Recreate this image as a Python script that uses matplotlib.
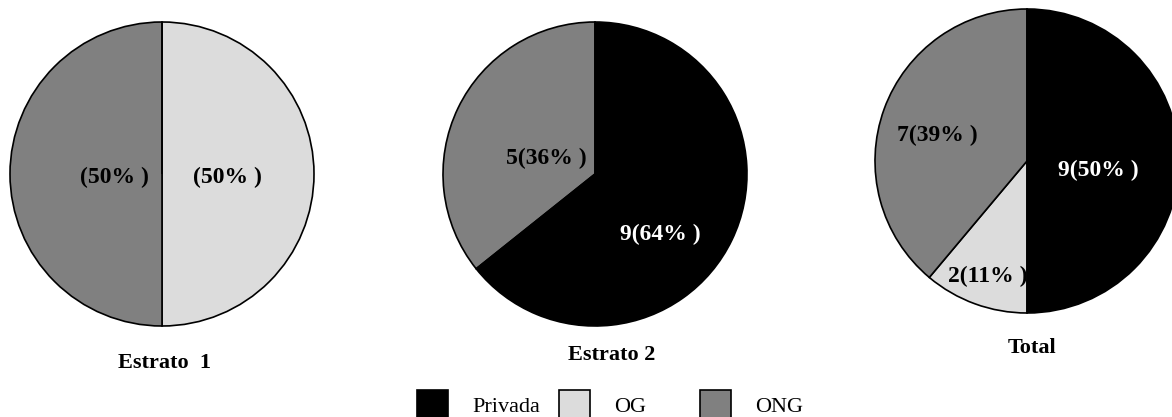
import matplotlib
matplotlib.use("Agg")
import matplotlib.pyplot as plt
from matplotlib.patches import Patch

# Categories and counts per stratum
categories = ["Privada", "OG", "ONG"]
colors = ["#000000", "#DCDCDC", "#808080"]

estrato1 = [0, 2, 2]
estrato2 = [9, 0, 5]
total = [9, 2, 7]

titles = ["Estrato  1", "Estrato 2", "Total"]
show_counts = [False, True, True]

# Label offsets inside each pie (in units of the pie radius), per category
label_offsets = [
    [None, (0.43, -0.02), (-0.31, -0.02)],
    [(0.43, -0.40), None, (-0.32, 0.105)],
    [(0.47, -0.06), (-0.26, -0.76), (-0.59, 0.17)],
]

W, H = 1172, 417
fig = plt.figure(figsize=(W / 100, H / 100), dpi=100)
plt.rcParams["font.family"] = ["Liberation Serif", "DejaVu Serif"]

# Pie centres / radius in pixels (from top-left), and title positions
centers = [(162, 174), (595, 174), (1027, 161)]
radius = 152
title_pos = [(164, 363), (612, 355), (1032, 348)]

for values, title, show, offs, (cx, cy), (tx, ty) in zip(
        [estrato1, estrato2, total], titles, show_counts, label_offsets,
        centers, title_pos):
    ax = fig.add_axes([(cx - radius) / W, (H - cy - radius) / H,
                       2 * radius / W, 2 * radius / H])
    wedges, _ = ax.pie(values, colors=colors, startangle=90, counterclock=False,
                       radius=1.0,
                       wedgeprops=dict(edgecolor="black", linewidth=1.2))
    # the Privada wedge sits above labels of neighbouring slices
    for i, w in enumerate(wedges):
        w.set_zorder(3 if i == 0 else 1)
    tot = sum(values)
    for i, (v, off) in enumerate(zip(values, offs)):
        if v == 0 or off is None:
            continue
        pct = 100.0 * v / tot
        txt = f"{v}({pct:.0f}% )" if show else f"({pct:.0f}% )"
        ax.text(off[0], off[1], txt, ha="center", va="center",
                fontsize=17, fontweight="bold",
                color="white" if i == 0 else "black",
                zorder=4 if i == 0 else 2)
    ax.set_xlim(-1, 1)
    ax.set_ylim(-1, 1)
    ax.set_aspect("equal")
    ax.axis("off")
    fig.text(tx / W, 1 - ty / H, title, ha="center", va="center",
             fontsize=16, fontweight="bold")

# Legend entries, one per category
legend_x = [417, 559, 700]
for cat, col, lx in zip(categories, colors, legend_x):
    h = Patch(facecolor=col, edgecolor="black", linewidth=1.2)
    leg = fig.legend([h], [cat], loc="center left",
                     bbox_to_anchor=(lx / W, 1 - 405 / H),
                     frameon=False, fontsize=16, borderpad=0,
                     borderaxespad=0, handlelength=1.4, handleheight=1.75,
                     handletextpad=1.1)

fig.savefig("out.png", dpi=100, facecolor="white")
